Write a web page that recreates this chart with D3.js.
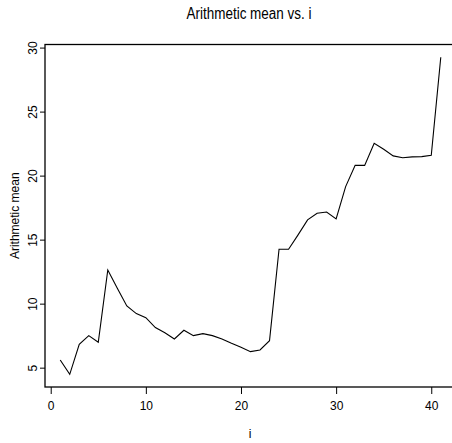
<!DOCTYPE html>
<html>
<head>
<meta charset="utf-8">
<script src="https://cdn.jsdelivr.net/npm/d3@7"></script>
<style>
  body { margin: 0; background: #fff; }
  text { font-family: "Liberation Sans", Arial, sans-serif; fill: #000; }
</style>
</head>
<body>
<svg id="canvas" width="452" height="443"></svg>
<script>
// values
let index = d3.range(1, 42)
let arithMean = [5.6, 4.48, 6.83, 7.5, 6.98, 12.63, 11.2, 9.82, 9.22, 8.9,
  8.13, 7.73, 7.24, 7.92, 7.5, 7.66, 7.5, 7.24, 6.9, 6.59,
  6.25, 6.38, 7.11, 14.25, 14.25, 15.37, 16.54, 17.06, 17.16, 16.62,
  19.14, 20.8, 20.8, 22.53, 22.06, 21.54, 21.4, 21.46, 21.48, 21.59,
  29.25]
let xTicks = [0, 10, 20, 30, 40]
let yTicks = [5, 10, 15, 20, 25, 30]

let canvas = d3.select('#canvas')

let plotLeft = 45, plotRight = 456, plotTop = 44.5, plotBottom = 387

// R style: data range padded by 4% on each side
let xPad = (d3.max(index) - d3.min(index)) * 0.04
let yPad = (d3.max(arithMean) - d3.min(arithMean)) * 0.04

let xScale = d3.scaleLinear()
  .domain([d3.min(index) - xPad, d3.max(index) + xPad])
  .range([plotLeft, plotRight])
let yScale = d3.scaleLinear()
  .domain([d3.min(arithMean) - yPad, d3.max(arithMean) + yPad])
  .range([plotBottom, plotTop])

// plot box (right side falls outside the picture)
canvas.append('rect')
  .attr('x', plotLeft).attr('y', plotTop)
  .attr('width', plotRight - plotLeft).attr('height', plotBottom - plotTop)
  .attr('fill', 'none').attr('stroke', '#000').attr('stroke-width', 1.3)

let xAxis = canvas.append('g')
  .attr('transform', 'translate(0,' + plotBottom + ')')
  .call(d3.axisBottom(xScale).tickValues(xTicks).tickSize(7).tickPadding(7))
xAxis.select('.domain').remove()
xAxis.selectAll('text').style('font-size', '12px').style('font-family', '"Liberation Sans", Arial, sans-serif')

let yAxis = canvas.append('g')
  .attr('transform', 'translate(' + plotLeft + ',0)')
  .call(d3.axisLeft(yScale).tickValues(yTicks).tickSize(5).tickPadding(0))
yAxis.select('.domain').remove()
yAxis.selectAll('.tick text')
  .style('font-size', '12px').style('font-family', '"Liberation Sans", Arial, sans-serif')
  .attr('text-anchor', 'middle')
  .attr('dy', null)
  .attr('x', null)
  .attr('transform', 'translate(-8,0) rotate(-90)')

let line = d3.line()
  .x((d, i) => xScale(index[i]))
  .y((d) => yScale(d))

canvas.append('path')
  .datum(arithMean)
  .attr('d', line)
  .attr('fill', 'none')
  .attr('stroke', '#000')
  .attr('stroke-width', 1.1)

canvas.append('text')
  .attr('x', 249).attr('y', 19)
  .attr('text-anchor', 'middle')
  .attr('textLength', 125)
  .attr('lengthAdjust', 'spacingAndGlyphs')
  .style('font-size', '16px')
  .text('Arithmetic mean vs. i')

canvas.append('text')
  .attr('x', 250).attr('y', 438)
  .attr('text-anchor', 'middle')
  .style('font-size', '12px')
  .text('i')

canvas.append('text')
  .attr('transform', 'translate(19,' + (plotTop + plotBottom) / 2 + ') rotate(-90)')
  .attr('text-anchor', 'middle')
  .style('font-size', '12px')
  .text('Arithmetic mean')
</script>
</body>
</html>
